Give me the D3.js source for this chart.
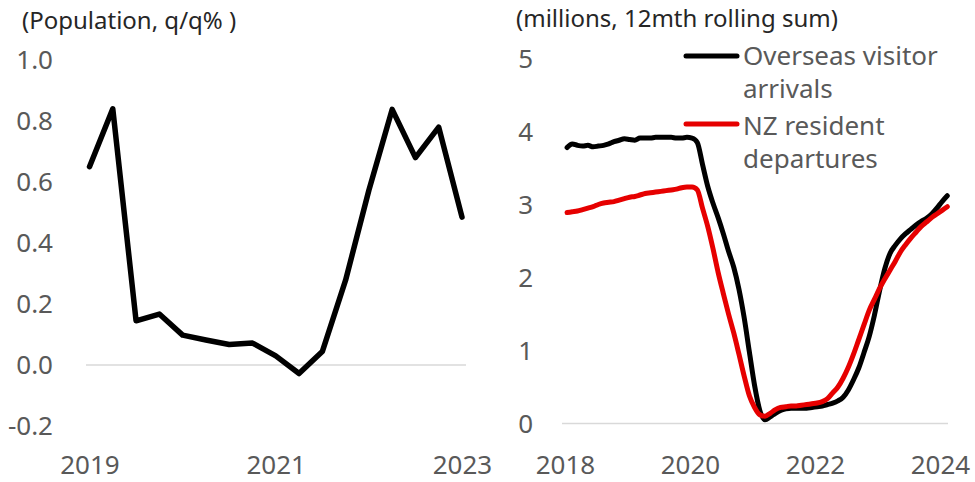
<!DOCTYPE html>
<html>
<head>
<meta charset="utf-8">
<script src="https://cdn.jsdelivr.net/npm/d3@7"></script>
<style>
  html, body { margin: 0; padding: 0; background: #fff; }
  svg { display: block; font-family: "Noto Sans", "Open Sans", sans-serif; }
</style>
</head>
<body>
<svg id="chart" width="975" height="482"></svg>
<script>
// ---------- Left panel data: population growth, q/q % ----------
const popQuarters = ["2019 Q1","2019 Q2","2019 Q3","2019 Q4","2020 Q1","2020 Q2","2020 Q3","2020 Q4",
  "2021 Q1","2021 Q2","2021 Q3","2021 Q4","2022 Q1","2022 Q2","2022 Q3","2022 Q4","2023 Q1"];
const popGrowth = [0.65, 0.84, 0.145, 0.167, 0.098, 0.082, 0.067, 0.072,
  0.030, -0.028, 0.044, 0.278, 0.573, 0.838, 0.680, 0.780, 0.485];
const popTickQuarters = ["2019 Q1", "2021 Q1", "2023 Q1"];
const popTickLabels = ["2019", "2021", "2023"];
const popYTicks = [-0.2, 0.0, 0.2, 0.4, 0.6, 0.8, 1.0];

// ---------- Right panel data: monthly, 12-month rolling sum (millions) ----------
const startYear = 2018;           // first month: Jan 2018
const visitorArrivals = [
  3.78, 3.83, 3.81, 3.80, 3.81, 3.79, 3.80, 3.81, 3.83, 3.86, 3.88, 3.90,
  3.89, 3.88, 3.91, 3.91, 3.91, 3.92, 3.92, 3.92, 3.92, 3.91, 3.91, 3.92,
  3.91, 3.85, 3.55, 3.25, 3.02, 2.82, 2.60, 2.36, 2.14, 1.84, 1.45, 0.98,
  0.52, 0.18, 0.05, 0.09, 0.14, 0.18, 0.20, 0.21, 0.21, 0.21, 0.21, 0.22,
  0.23, 0.24, 0.26, 0.28, 0.31, 0.36, 0.46, 0.60, 0.76, 0.97, 1.19, 1.48,
  1.82, 2.12, 2.33, 2.44, 2.53, 2.60, 2.66, 2.72, 2.77, 2.81, 2.87, 2.95,
  3.04, 3.12];
const residentDepartures = [
  2.89, 2.90, 2.91, 2.93, 2.95, 2.97, 3.00, 3.02, 3.03, 3.04, 3.06, 3.08,
  3.10, 3.11, 3.13, 3.15, 3.16, 3.17, 3.18, 3.19, 3.20, 3.21, 3.23, 3.24,
  3.24, 3.20, 2.95, 2.70, 2.40, 2.07, 1.78, 1.50, 1.24, 0.95, 0.65, 0.38,
  0.22, 0.12, 0.10, 0.14, 0.19, 0.22, 0.23, 0.24, 0.24, 0.25, 0.26, 0.27,
  0.28, 0.30, 0.34, 0.42, 0.50, 0.62, 0.77, 0.95, 1.15, 1.35, 1.55, 1.70,
  1.85, 1.98, 2.10, 2.22, 2.35, 2.45, 2.54, 2.62, 2.70, 2.76, 2.82, 2.87,
  2.92, 2.97];
const travelXTicks = [2018, 2020, 2022, 2024];
const travelYTicks = [0, 1, 2, 3, 4, 5];
const seriesNames = ["Overseas visitor arrivals", "NZ resident departures"];
const seriesLegendLines = [["Overseas visitor", "arrivals"], ["NZ resident", "departures"]];
const seriesColors = ["#000000", "#e60000"];

const svg = d3.select("#chart");
const tickColor = "#595959";
const titleColor = "#262626";
const tickFont = 26;
const xLabelBaseline = 474;

// ================= LEFT PANEL =================
const xL = d3.scalePoint().domain(popQuarters).range([89.5, 462]);
const yL = d3.scaleLinear().domain([-0.2, 1.0]).range([426, 60]);

const left = svg.append("g");
left.append("text")
  .attr("x", 22).attr("y", 29)
  .attr("fill", titleColor).attr("font-size", 24)
  .text("(Population, q/q% )");

// zero line
left.append("line")
  .attr("x1", 86).attr("x2", 466)
  .attr("y1", yL(0)).attr("y2", yL(0))
  .attr("stroke", "#d9d9d9").attr("stroke-width", 1.5);

// y axis
const yAxisL = d3.axisLeft(yL).tickValues(popYTicks).tickFormat(d3.format(".1f")).tickSize(0).tickPadding(0);
const gyL = left.append("g").attr("transform", "translate(53,0)").call(yAxisL);
gyL.select(".domain").remove();
gyL.selectAll("text").attr("fill", tickColor).attr("font-size", tickFont)
  .attr("font-family", "Noto Sans, sans-serif").attr("dy", "0.34em")
  .text(d => d < 0 ? "-" + Math.abs(d).toFixed(1) : d.toFixed(1));

// x axis
const xAxisL = d3.axisBottom(xL).tickValues(popTickQuarters)
  .tickFormat((d) => popTickLabels[popTickQuarters.indexOf(d)]).tickSize(0).tickPadding(0);
const gxL = left.append("g").attr("transform", `translate(0,${xLabelBaseline})`).call(xAxisL);
gxL.select(".domain").remove();
gxL.selectAll("text").attr("fill", tickColor).attr("font-size", tickFont)
  .attr("font-family", "Noto Sans, sans-serif").attr("dy", "0");

// line
left.append("path")
  .datum(popQuarters.map((q, i) => ({ q, v: popGrowth[i] })))
  .attr("fill", "none").attr("stroke", "#000").attr("stroke-width", 5.5)
  .attr("stroke-linejoin", "round").attr("stroke-linecap", "round")
  .attr("d", d3.line().x(d => xL(d.q)).y(d => yL(d.v)));

// ================= RIGHT PANEL =================
const xR = d3.scaleLinear().domain([2018, 2024]).range([565, 940]);
const yR = d3.scaleLinear().domain([0, 5]).range([423.5, 58.5]);
const monthDate = i => startYear + (i + 0.4) / 12;

const right = svg.append("g");
right.append("text")
  .attr("x", 516).attr("y", 27)
  .attr("fill", titleColor).attr("font-size", 24)
  .text("(millions, 12mth rolling sum)");

right.append("line")
  .attr("x1", 562).attr("x2", 948)
  .attr("y1", yR(0)).attr("y2", yR(0))
  .attr("stroke", "#d9d9d9").attr("stroke-width", 1.5);

const yAxisR = d3.axisLeft(yR).tickValues(travelYTicks).tickFormat(d3.format("d")).tickSize(0).tickPadding(0);
const gyR = right.append("g").attr("transform", "translate(533,0)").call(yAxisR);
gyR.select(".domain").remove();
gyR.selectAll("text").attr("fill", tickColor).attr("font-size", tickFont)
  .attr("font-family", "Noto Sans, sans-serif").attr("dy", "0.34em");

const xAxisR = d3.axisBottom(xR).tickValues(travelXTicks).tickFormat(d3.format("d")).tickSize(0).tickPadding(0);
const gxR = right.append("g").attr("transform", `translate(0,${xLabelBaseline})`).call(xAxisR);
gxR.select(".domain").remove();
gxR.selectAll("text").attr("fill", tickColor).attr("font-size", tickFont)
  .attr("font-family", "Noto Sans, sans-serif").attr("dy", "0");

const lineR = d3.line().curve(d3.curveMonotoneX).x(d => xR(d.t)).y(d => yR(d.v));
// black first, red drawn on top
[visitorArrivals, residentDepartures].forEach((arr, k) => {
  right.append("path")
    .datum(arr.map((v, i) => ({ t: monthDate(i), v })))
    .attr("fill", "none").attr("stroke", seriesColors[k]).attr("stroke-width", 5)
    .attr("stroke-linejoin", "round").attr("stroke-linecap", "round")
    .attr("d", lineR);
});

// legend
const legendY = [56, 124];
const legendBase = [[65, 98], [135, 168]];
seriesNames.forEach((name, k) => {
  const g = right.append("g").attr("class", "legend-item");
  g.append("line")
    .attr("x1", 686).attr("x2", 737).attr("y1", legendY[k]).attr("y2", legendY[k])
    .attr("stroke", seriesColors[k]).attr("stroke-width", 5).attr("stroke-linecap", "round");
  seriesLegendLines[k].forEach((t, j) => {
    g.append("text").attr("x", 743).attr("y", legendBase[k][j])
      .attr("fill", tickColor).attr("font-size", tickFont).text(t);
  });
});
</script>
</body>
</html>
